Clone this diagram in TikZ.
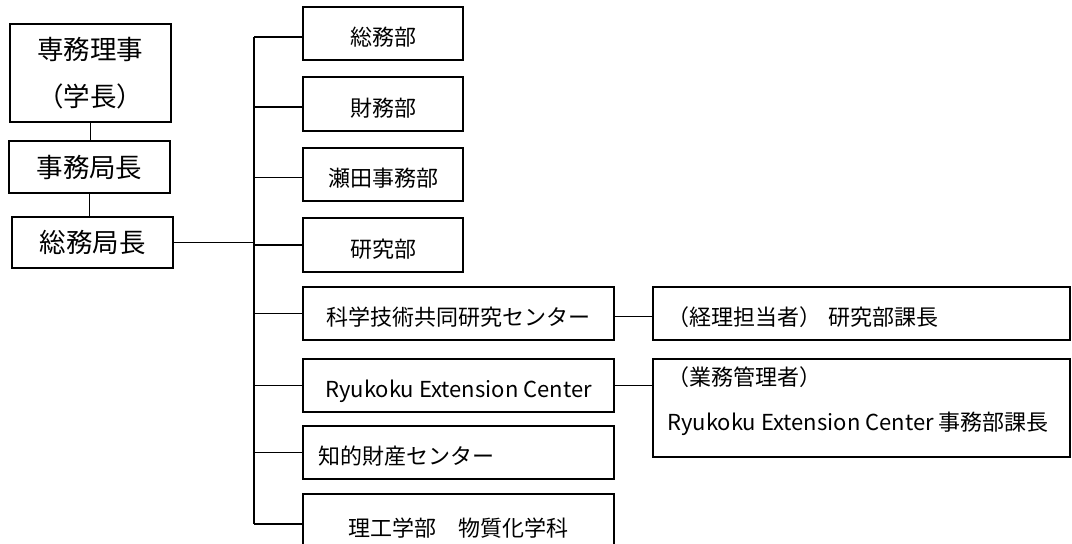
\documentclass[tikz,border=0pt]{standalone}
\usepackage{fontspec}
\setmainfont{Noto Sans CJK JP}
\newfontfamily\cjk{Noto Sans CJK JP}
\begin{document}
\begin{tikzpicture}[x=1pt,y=-1pt,
  box/.style={draw, line width=1.8pt, inner sep=0pt, anchor=center},
  big/.style={font=\cjk\fontsize{26.5pt}{47pt}\selectfont, align=center},
  mid/.style={font=\cjk\fontsize{22pt}{45pt}\selectfont},
  low/.style={text height=27pt, text depth=2.2pt},
  txt/.style={font=\cjk\fontsize{22pt}{45pt}\selectfont, inner sep=0pt, anchor=base west},
  link/.style={line width=1.8pt}]
\useasboundingbox (0,0) rectangle (1072,544);
\clip (0,0) rectangle (1072,544);
% left column
\node[box,big,minimum width=161pt,minimum height=98pt] (A) at (90.5,73) {専務理事\\（学長）};
\node[box,big,minimum width=161pt,minimum height=52pt] (B) at (89.5,167) {事務局長};
\node[box,big,minimum width=161pt,minimum height=51pt] (C) at (92.5,242.5) {総務局長};
% right column
\node[box,mid,low,minimum width=160pt,minimum height=53pt] (D1) at (383,33.5) {総務部};
\node[box,mid,low,minimum width=160pt,minimum height=54pt] (D2) at (383,104) {財務部};
\node[box,mid,low,minimum width=160pt,minimum height=53pt] (D3) at (383,174.5) {瀬田事務部};
\node[box,mid,low,minimum width=160pt,minimum height=54pt] (D4) at (383,245) {研究部};
\node[box,mid,low,minimum width=311pt,minimum height=53pt] (E1) at (458.5,313.5) {科学技術共同研究センター};
\node[box,mid,low,minimum width=311pt,minimum height=53pt] (E2) at (458.5,385.5) {Ryukoku Extension Center};
\node[box,mid,low,minimum width=311pt,minimum height=53pt,text width=280pt,align=left] (E3) at (458.5,452.5) {知的財産センター};
\node[box,mid,low,minimum width=311pt,minimum height=60pt] (E4) at (458.5,524) {理工学部　物質化学科};
% far right
\node[box,mid,low,minimum width=417pt,minimum height=53pt,text width=388pt,align=left] (F1) at (861.5,313.5) {（経理担当者） 研究部課長};
\node[box,minimum width=417pt,minimum height=98pt] (F2) at (861.5,408) {};
\node[txt] (F2a) at ([xshift=15pt,yshift=-27.4pt]F2.north west) {（業務管理者）};
\node[txt] (F2b) at ([xshift=15pt,yshift=-72.4pt]F2.north west) {Ryukoku Extension Center 事務部課長};
% connectors
\coordinate (bustop) at (254,37);
\coordinate (busbot) at (254,524);
\draw[link] (A.south) -- (A.south |- B.north);
\draw[link] (B.south) -- (B.south |- C.north);
\draw[link] (C.east) -- (C.east -| bustop);
\draw[link] (bustop) -- (busbot);
\draw[link] (bustop) -- (bustop -| D1.west);
\draw[link] ([yshift=-3pt]D2.west) -- ([yshift=-3pt]D2.west -| bustop);
\draw[link] ([yshift=-3pt]D3.west) -- ([yshift=-3pt]D3.west -| bustop);
\draw[link] (D4.west) -- (D4.west -| bustop);
\draw[link] (E1.west) -- (E1.west -| bustop);
\draw[link] (E2.west) -- (E2.west -| bustop);
\draw[link] (E3.west) -- (E3.west -| bustop);
\draw[link] (busbot) -- (busbot -| E4.west);
\draw[link] ([yshift=-3pt]E1.east) -- ([yshift=-3pt]E1.east -| F1.west);
\draw[link] (E2.east) -- (E2.east -| F2.west);
\end{tikzpicture}
\end{document}
